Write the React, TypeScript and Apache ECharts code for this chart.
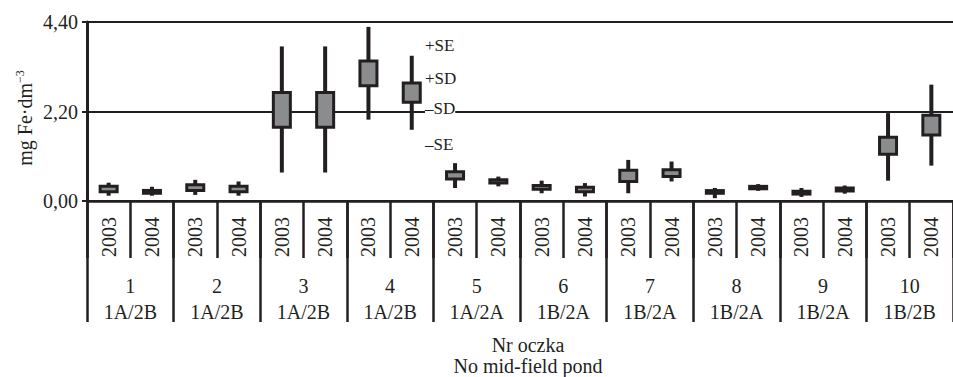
import React, { useEffect, useRef } from "react";
import * as echarts from "echarts";

const years = ["2003", "2004", "2003", "2004", "2003", "2004", "2003", "2004", "2003", "2004", "2003", "2004", "2003", "2004", "2003", "2004", "2003", "2004", "2003", "2004"];
const pondNumbers = ["1", "2", "3", "4", "5", "6", "7", "8", "9", "10"];
const pondCodes = ["1A/2B", "1A/2B", "1A/2B", "1A/2B", "1A/2A", "1B/2A", "1B/2A", "1B/2A", "1B/2A", "1B/2B"];
const yTicks = [0, 2.2, 4.4];

const boxLow = [0.23, 0.19, 0.26, 0.23, 1.81, 1.81, 2.83, 2.43, 0.54, 0.44, 0.29, 0.23, 0.48, 0.6, 0.19, 0.3, 0.17, 0.245, 1.15, 1.62];
const boxHigh = [0.36, 0.26, 0.4, 0.36, 2.67, 2.67, 3.44, 2.9, 0.72, 0.52, 0.38, 0.34, 0.755, 0.77, 0.256, 0.36, 0.24, 0.32, 1.57, 2.11];
const whiskerLow = [0.13, 0.13, 0.15, 0.13, 0.7, 0.7, 2.0, 1.75, 0.32, 0.36, 0.19, 0.11, 0.19, 0.48, 0.07, 0.25, 0.1, 0.18, 0.5, 0.87];
const whiskerHigh = [0.45, 0.35, 0.52, 0.48, 3.8, 3.8, 4.28, 3.57, 0.93, 0.6, 0.5, 0.44, 1.01, 0.97, 0.32, 0.415, 0.32, 0.38, 2.16, 2.86];

const keyLabels = ["+SE", "+SD", "–SD", "–SE"];

const INK = "#231f20";
const FILL = "#8b8c8e";
const FONT = "'Liberation Serif', 'Times New Roman', serif";

export default function App() {
  const ref = useRef<HTMLDivElement>(null);
  useEffect(() => {
    if (!ref.current) return;
    const chart = echarts.init(ref.current, null, { renderer: "svg" });
    const data = years.map((_, i) => [i, boxLow[i], boxHigh[i], whiskerLow[i], whiskerHigh[i]]);
    const keyY = [45, 78, 108, 144];
    const labelBase = { interval: 0, fontSize: 20, lineHeight: 20, fontFamily: FONT, color: INK };
    chart.setOption({
      animation: false,
      backgroundColor: "#ffffff",
      grid: { left: 87, top: 22, width: 870, height: 179, containLabel: false },
      xAxis: [
        {
          type: "category",
          data: years,
          position: "bottom",
          axisLine: { show: true, lineStyle: { color: INK, width: 2.5 } },
          axisTick: { show: true, interval: 0, length: 57, lineStyle: { color: INK, width: 2.5 } },
          axisLabel: { ...labelBase, rotate: 90, margin: 16 },
          splitLine: { show: false },
        },
        {
          type: "category",
          data: pondNumbers,
          position: "bottom",
          axisLine: { show: false },
          axisTick: { show: true, interval: 0, length: 121, lineStyle: { color: INK, width: 2.5 } },
          axisLabel: { ...labelBase, margin: 75 },
          splitLine: { show: false },
        },
        {
          type: "category",
          data: pondCodes,
          position: "bottom",
          axisLine: { show: false },
          axisTick: { show: false },
          axisLabel: { ...labelBase, margin: 101 },
          splitLine: { show: false },
        },
      ],
      yAxis: {
        type: "value",
        min: yTicks[0],
        max: yTicks[yTicks.length - 1],
        interval: yTicks[1] - yTicks[0],
        axisLine: { show: true, lineStyle: { color: INK, width: 3 } },
        axisTick: { show: true, length: 5, lineStyle: { color: INK, width: 2 } },
        axisLabel: {
          margin: 9,
          fontSize: 20,
          fontFamily: FONT,
          color: INK,
          formatter: (v: number) => v.toFixed(2).replace(".", ","),
        },
        splitLine: { show: true, lineStyle: { color: INK, width: 2 } },
      },
      series: [
        {
          type: "custom",
          xAxisIndex: 0,
          yAxisIndex: 0,
          data,
          encode: { x: 0, y: [1, 2, 3, 4] },
          renderItem: (params: any, api: any) => {
            const i = api.value(0);
            const bl = api.coord([i, api.value(1)]);
            const bh = api.coord([i, api.value(2)]);
            const wl = api.coord([i, api.value(3)]);
            const wh = api.coord([i, api.value(4)]);
            const w = 17;
            return {
              type: "group",
              children: [
                {
                  type: "line",
                  shape: { x1: wl[0], y1: wl[1], x2: wh[0], y2: wh[1] },
                  style: { stroke: INK, lineWidth: 4 },
                },
                {
                  type: "rect",
                  shape: { x: bh[0] - w / 2, y: bh[1], width: w, height: bl[1] - bh[1] },
                  style: { fill: FILL, stroke: INK, lineWidth: 3 },
                },
              ],
            };
          },
        },
      ],
      graphic: [
        ...keyLabels.map((t, k) => ({
          type: "text",
          left: 425,
          top: keyY[k] - 10,
          z: 100,
          style: {
            text: t,
            fontSize: 17,
            fontFamily: FONT,
            fill: INK,
            backgroundColor: k === 2 ? "#ffffff" : undefined,
            lineHeight: 20,
          },
        })),
        {
          type: "text",
          x: 25,
          y: 118,
          rotation: Math.PI / 2,
          style: {
            text: "{m|mg Fe·dm}{s|−3}",
            align: "center",
            verticalAlign: "middle",
            rich: {
              m: { fontSize: 20, fontFamily: FONT, fill: INK, lineHeight: 22 },
              s: { fontSize: 12, fontFamily: FONT, fill: INK, verticalAlign: "top", lineHeight: 22 },
            },
          },
        },
        {
          type: "text",
          x: 528,
          y: 345,
          style: { text: "Nr oczka", fontSize: 20, fontFamily: FONT, fill: INK, align: "center", verticalAlign: "middle" },
        },
        {
          type: "text",
          x: 528,
          y: 366,
          style: { text: "No mid-field pond", fontSize: 20, fontFamily: FONT, fill: INK, align: "center", verticalAlign: "middle" },
        },
      ],
    });
    return () => chart.dispose();
  }, []);
  return <div ref={ref} style={{ position: "fixed", left: 0, top: 0, width: 953, height: 377 }} />;
}
